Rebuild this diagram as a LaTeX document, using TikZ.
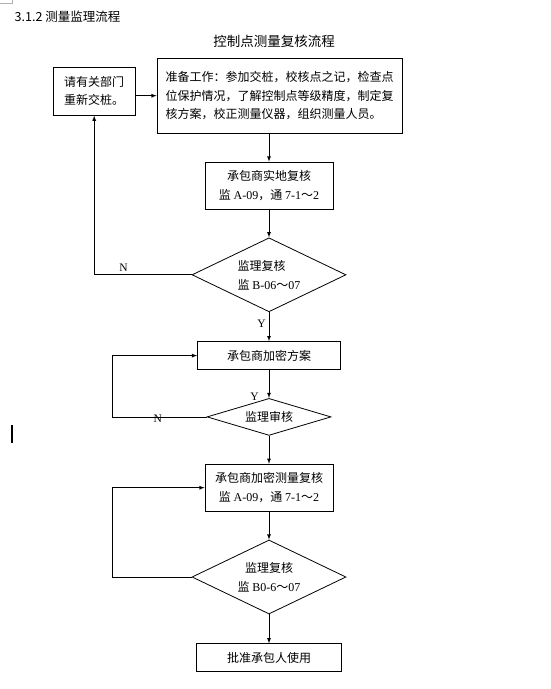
\documentclass[tikz,border=0pt]{standalone}
\usepackage{fontspec}
\setmainfont{Noto Sans CJK SC}
\newfontfamily\tnr{Liberation Serif}
\usepackage{tikz}
\usetikzlibrary{positioning}
\usetikzlibrary{shapes.geometric}
\usetikzlibrary{arrows}

\begin{document}
\begin{tikzpicture}[x=1pt, y=-1pt,
		    box/.style={draw, rectangle, align=center,
			   font=\fontsize{12pt}{19pt}\selectfont},
		    check/.style={draw, diamond, aspect=2.1, inner sep=1pt,
			   align=center, font=\fontsize{12pt}{19pt}\selectfont},
		    lab/.style={font=\tnr\fontsize{11.5pt}{13pt}\selectfont, inner sep=1pt},
		    flow/.style={draw, -latex},
                    line width=0.8pt]
 \useasboundingbox (0,0) rectangle (550,689);
 \node[anchor=west, font=\fontsize{12.5pt}{15pt}\selectfont] (title) at (11,17) {3.1.2 测量监理流程};
 \node[font=\fontsize{13.5pt}{16pt}\selectfont] (head) at (274,41) {控制点测量复核流程};

 \node[box, minimum width=128pt, minimum height=47pt] (shidi) at (269,185.5)
      {承包商实地复核\\监 {\tnr A-09}，通 {\tnr 7-1}～{\tnr 2}};
 \node[box, minimum width=245pt, minimum height=75pt, align=left,
       font=\fontsize{12pt}{18.5pt}\selectfont,
       above=28pt of shidi, xshift=10.5pt] (zhunbei)
      {准备工作：参加交桩，校核点之记，检查点\\位保护情况，了解控制点等级精度，制定复\\核方案，校正测量仪器，组织测量人员。};
 \node[box, minimum width=82pt, minimum height=48pt, font=\fontsize{12pt}{18pt}\selectfont,
       left=21pt of zhunbei, yshift=4.5pt] (jiaozhuang) {请有关部门\\重新交桩。};
 \node[check, minimum width=154pt, minimum height=74pt, align=left,
       below=28pt of shidi] (fuhe) {监理复核\\监 {\tnr B-06}～{\tnr 07}};
 \node[box, minimum width=143pt, minimum height=28pt, below=29pt of fuhe] (fangan) {承包商加密方案};
 \node[check, minimum width=124pt, minimum height=37pt, below=28pt of fangan] (shenhe) {监理审核};
 \node[box, minimum width=128pt, minimum height=47pt, below=28pt of shenhe] (jiami)
      {承包商加密测量复核\\监 {\tnr A-09}，通 {\tnr 7-1}～{\tnr 2}};
 \node[check, minimum width=154pt, minimum height=74pt, below=28pt of jiami] (fuhetwo)
      {监理复核\\监 {\tnr B0-6}～{\tnr 07}};
 \node[box, minimum width=145pt, minimum height=28pt, below=29pt of fuhetwo] (pizhun) {批准承包人使用};

 \draw[flow] (jiaozhuang.east |- zhunbei.west) -- (zhunbei.west);
 \draw[flow] (zhunbei.south -| shidi.north) -- (shidi.north);
 \draw[flow] (shidi) -- (fuhe);
 \draw[flow] (fuhe.west) -| node[lab, pos=0.35, above=2pt] {N} (jiaozhuang.south);
 \draw[flow] (fuhe) -- node[lab, pos=0.4, left=2pt] {Y} (fangan);
 \draw[flow] (fangan) -- node[lab, pos=0.95, left=9pt] {Y} (shenhe);
 \draw[flow] (shenhe.west) -- node[lab, pos=0.52, yshift=-1.5pt] {N} ++(-94,0) |- (fangan.west);
 \draw[flow] (shenhe) -- (jiami);
 \draw[flow] (jiami) -- (fuhetwo);
 \draw[flow] (fuhetwo.west) -- ++(-79,0) |- (jiami.west);
 \draw[flow] (fuhetwo) -- (pizhun);

 % page corner mark and cursor
 \draw[gray!60, line width=0.5pt] (0,3) -- (12,3) -- (12,0);
 \draw[line width=2pt] (12,425) -- (12,443);
\end{tikzpicture}
\end{document}
